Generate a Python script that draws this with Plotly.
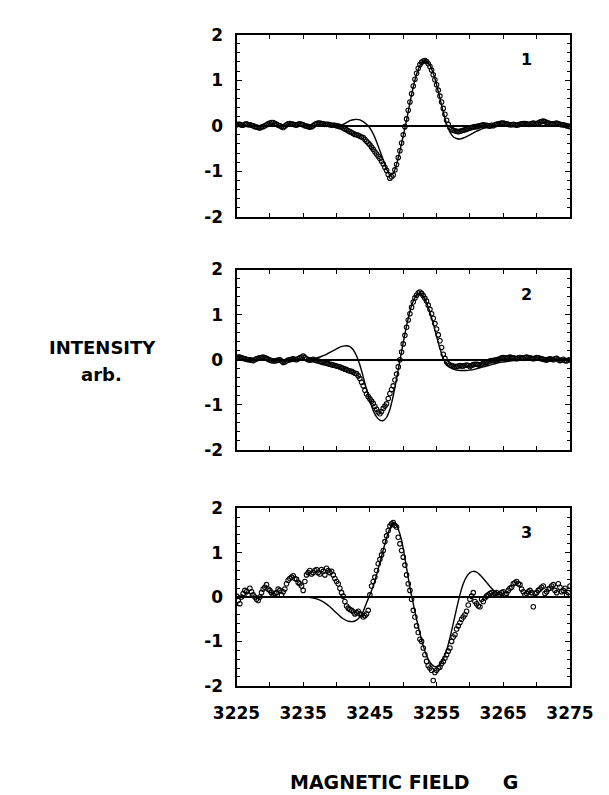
import plotly.graph_objects as go

# ---------------- data ----------------
FIELD_G = [
    3225.0, 3225.5, 3226.0, 3226.5, 3227.0, 3227.5, 3228.0, 3228.5, 3229.0, 3229.5,
    3230.0, 3230.5, 3231.0, 3231.5, 3232.0, 3232.5, 3233.0, 3233.5, 3234.0, 3234.5,
    3235.0, 3235.5, 3236.0, 3236.5, 3237.0, 3237.5, 3238.0, 3238.5, 3239.0, 3239.5,
    3240.0, 3240.5, 3241.0, 3241.5, 3242.0, 3242.5, 3243.0, 3243.5, 3244.0, 3244.5,
    3245.0, 3245.5, 3246.0, 3246.5, 3247.0, 3247.5, 3248.0, 3248.5, 3249.0, 3249.5,
    3250.0, 3250.5, 3251.0, 3251.5, 3252.0, 3252.5, 3253.0, 3253.5, 3254.0, 3254.5,
    3255.0, 3255.5, 3256.0, 3256.5, 3257.0, 3257.5, 3258.0, 3258.5, 3259.0, 3259.5,
    3260.0, 3260.5, 3261.0, 3261.5, 3262.0, 3262.5, 3263.0, 3263.5, 3264.0, 3264.5,
    3265.0, 3265.5, 3266.0, 3266.5, 3267.0, 3267.5, 3268.0, 3268.5, 3269.0, 3269.5,
    3270.0, 3270.5, 3271.0, 3271.5, 3272.0, 3272.5, 3273.0, 3273.5, 3274.0, 3274.5,
    3275.0,
]
FIELD_G_MID = [
    3225.25, 3225.75, 3226.25, 3226.75, 3227.25, 3227.75, 3228.25, 3228.75, 3229.25, 3229.75,
    3230.25, 3230.75, 3231.25, 3231.75, 3232.25, 3232.75, 3233.25, 3233.75, 3234.25, 3234.75,
    3235.25, 3235.75, 3236.25, 3236.75, 3237.25, 3237.75, 3238.25, 3238.75, 3239.25, 3239.75,
    3240.25, 3240.75, 3241.25, 3241.75, 3242.25, 3242.75, 3243.25, 3243.75, 3244.25, 3244.75,
    3245.25, 3245.75, 3246.25, 3246.75, 3247.25, 3247.75, 3248.25, 3248.75, 3249.25, 3249.75,
    3250.25, 3250.75, 3251.25, 3251.75, 3252.25, 3252.75, 3253.25, 3253.75, 3254.25, 3254.75,
    3255.25, 3255.75, 3256.25, 3256.75, 3257.25, 3257.75, 3258.25, 3258.75, 3259.25, 3259.75,
    3260.25, 3260.75, 3261.25, 3261.75, 3262.25, 3262.75, 3263.25, 3263.75, 3264.25, 3264.75,
    3265.25, 3265.75, 3266.25, 3266.75, 3267.25, 3267.75, 3268.25, 3268.75, 3269.25, 3269.75,
    3270.25, 3270.75, 3271.25, 3271.75, 3272.25, 3272.75, 3273.25, 3273.75, 3274.25, 3274.75,
]

# panel 1 ------------------------------------------------------------
P1_DATA = [
    0.02, 0.03, 0.01, 0.04, 0.02, 0.00, -0.03, -0.05, -0.02, 0.02,
    0.06, 0.07, 0.03, 0.00, -0.04, 0.02, 0.05, 0.03, 0.01, 0.04,
    0.02, -0.01, -0.03, 0.00, 0.05, 0.06, 0.04, 0.03, 0.02, 0.01,
    0.00, -0.02, -0.05, -0.09, -0.13, -0.17, -0.20, -0.23, -0.26, -0.34,
    -0.42, -0.52, -0.62, -0.72, -0.84, -0.98, -1.15, -1.08, -0.85, -0.55,
    -0.20, 0.15, 0.52, 0.87, 1.15, 1.34, 1.42, 1.41, 1.30, 1.12,
    0.90, 0.65, 0.38, 0.12, -0.04, -0.10, -0.12, -0.12, -0.10, -0.08,
    -0.05, -0.03, -0.02, 0.00, 0.02, 0.01, -0.01, 0.00, 0.03, 0.05,
    0.06, 0.04, 0.02, 0.03, 0.01, 0.03, 0.05, 0.04, 0.03, 0.06,
    0.05, 0.08, 0.10, 0.07, 0.05, 0.04, 0.06, 0.03, 0.02, 0.00,
    -0.02,
]
P1_DATA_MID = [
    0.03, 0.01, 0.03, 0.02, 0.01, -0.02, -0.04, -0.03, 0.00, 0.04,
    0.07, 0.05, 0.01, -0.02, -0.01, 0.04, 0.04, 0.02, 0.03, 0.03,
    0.00, -0.02, -0.02, 0.03, 0.06, 0.05, 0.03, 0.03, 0.01, 0.01,
    -0.01, -0.03, -0.07, -0.11, -0.15, -0.19, -0.21, -0.25, -0.30, -0.38,
    -0.47, -0.57, -0.67, -0.78, -0.91, -1.07, -1.12, -0.97, -0.70, -0.38,
    -0.02, 0.34, 0.70, 1.02, 1.26, 1.39, 1.43, 1.36, 1.22, 1.01,
    0.78, 0.52, 0.25, 0.03, -0.08, -0.11, -0.13, -0.11, -0.09, -0.06,
    -0.04, -0.02, -0.01, 0.01, 0.01, 0.00, 0.01, 0.02, 0.04, 0.06,
    0.05, 0.03, 0.02, 0.02, 0.02, 0.04, 0.05, 0.03, 0.05, 0.05,
    0.06, 0.09, 0.09, 0.06, 0.04, 0.05, 0.04, 0.02, 0.01, -0.01,
]
P1_FIT = [
    0.00, 0.00, 0.00, 0.00, 0.00, 0.00, 0.00, 0.00, 0.00, 0.00,
    0.00, 0.00, 0.00, 0.00, 0.00, 0.00, 0.00, 0.00, 0.00, 0.00,
    0.00, 0.00, 0.00, 0.00, 0.00, 0.00, 0.00, 0.00, 0.00, 0.00,
    0.00, 0.01, 0.03, 0.07, 0.11, 0.13, 0.14, 0.13, 0.09, 0.03,
    -0.05, -0.18, -0.35, -0.55, -0.75, -0.95, -1.08, -1.05, -0.85, -0.55,
    -0.22, 0.12, 0.50, 0.85, 1.13, 1.32, 1.42, 1.42, 1.33, 1.15,
    0.90, 0.60, 0.30, 0.04, -0.14, -0.24, -0.28, -0.29, -0.27, -0.24,
    -0.20, -0.16, -0.12, -0.09, -0.06, -0.04, -0.03, -0.02, -0.01, 0.00,
    0.00, 0.00, 0.00, 0.00, 0.00, 0.00, 0.00, 0.00, 0.00, 0.00,
    0.00, 0.00, 0.00, 0.00, 0.00, 0.00, 0.00, 0.00, 0.00, 0.00,
    0.00,
]

# panel 2 ------------------------------------------------------------
P2_DATA = [
    0.05, 0.06, 0.03, 0.01, 0.00, -0.02, 0.02, 0.04, 0.06, 0.03,
    -0.01, -0.03, -0.02, 0.00, -0.06, -0.03, 0.00, 0.02, 0.00, 0.04,
    0.08, 0.02, -0.01, 0.01, -0.02, -0.04, -0.06, -0.08, -0.10, -0.12,
    -0.14, -0.16, -0.19, -0.22, -0.25, -0.28, -0.31, -0.42, -0.58, -0.76,
    -0.87, -0.97, -1.10, -1.20, -1.08, -0.98, -0.75, -0.58, -0.32, 0.00,
    0.35, 0.72, 1.02, 1.28, 1.43, 1.50, 1.42, 1.30, 1.12, 0.92,
    0.68, 0.42, 0.12, -0.05, -0.12, -0.14, -0.15, -0.13, -0.14, -0.12,
    -0.15, -0.11, -0.10, -0.12, -0.08, -0.06, -0.03, -0.02, 0.00, 0.02,
    0.05, 0.03, 0.06, 0.04, 0.02, 0.05, 0.03, 0.06, 0.04, 0.02,
    0.05, 0.03, 0.01, -0.01, 0.02, 0.00, 0.03, -0.02, 0.01, -0.03,
    0.00,
]
P2_DATA_MID = [
    0.06, 0.04, 0.02, 0.00, -0.01, 0.00, 0.03, 0.05, 0.04, 0.01,
    -0.02, -0.03, -0.01, -0.03, -0.05, -0.01, 0.01, 0.01, 0.02, 0.06,
    0.05, 0.00, 0.00, -0.01, -0.03, -0.05, -0.07, -0.09, -0.11, -0.13,
    -0.15, -0.18, -0.21, -0.24, -0.26, -0.30, -0.36, -0.50, -0.68, -0.82,
    -0.92, -1.04, -1.16, -1.15, -1.03, -0.86, -0.66, -0.45, -0.16, 0.17,
    0.54, 0.88, 1.16, 1.37, 1.48, 1.47, 1.36, 1.21, 1.02, 0.80,
    0.55, 0.27, 0.03, -0.09, -0.13, -0.15, -0.14, -0.14, -0.13, -0.13,
    -0.13, -0.10, -0.11, -0.10, -0.07, -0.04, -0.02, -0.01, 0.01, 0.04,
    0.04, 0.05, 0.05, 0.03, 0.04, 0.04, 0.05, 0.05, 0.03, 0.03,
    0.04, 0.02, 0.00, 0.01, 0.01, 0.02, 0.00, -0.01, -0.02, -0.01,
]
P2_FIT = [
    0.00, 0.00, 0.00, 0.00, 0.00, 0.00, 0.00, 0.00, 0.00, 0.00,
    0.00, 0.00, 0.00, 0.00, 0.00, 0.00, 0.00, 0.00, 0.00, 0.00,
    0.00, 0.00, 0.01, 0.02, 0.04, 0.06, 0.09, 0.12, 0.16, 0.20,
    0.24, 0.28, 0.30, 0.31, 0.29, 0.22, 0.08, -0.12, -0.38, -0.66,
    -0.92, -1.13, -1.27, -1.34, -1.35, -1.28, -1.10, -0.80, -0.42, -0.02,
    0.38, 0.75, 1.07, 1.30, 1.43, 1.46, 1.40, 1.26, 1.05, 0.80,
    0.52, 0.25, 0.03, -0.10, -0.17, -0.21, -0.23, -0.24, -0.24, -0.24,
    -0.23, -0.22, -0.20, -0.18, -0.16, -0.14, -0.12, -0.10, -0.08, -0.06,
    -0.05, -0.04, -0.03, -0.02, -0.01, -0.01, 0.00, 0.00, 0.00, 0.00,
    0.00, 0.00, 0.00, 0.00, 0.00, 0.00, 0.00, 0.00, 0.00, 0.00,
    0.00,
]

# panel 3 ------------------------------------------------------------
P3_DATA = [
    0.02, -0.15, 0.08, 0.12, 0.20, 0.05, -0.05, 0.00, 0.18, 0.28,
    0.15, 0.05, 0.10, 0.15, 0.12, 0.30, 0.42, 0.48, 0.40, 0.30,
    0.15, 0.50, 0.60, 0.55, 0.62, 0.52, 0.58, 0.65, 0.55, 0.50,
    0.35, 0.20, 0.02, -0.20, -0.28, -0.33, -0.35, -0.38, -0.45, -0.38,
    0.05, 0.35, 0.60, 0.85, 1.05, 1.38, 1.60, 1.68, 1.58, 1.20,
    0.90, 0.50, 0.15, -0.30, -0.65, -0.95, -1.15, -1.45, -1.60, -1.88,
    -1.65, -1.58, -1.45, -1.30, -1.15, -0.90, -0.72, -0.58, -0.45, -0.32,
    -0.05, 0.10, -0.15, -0.22, -0.10, 0.02, 0.08, 0.05, 0.10, 0.06,
    0.12, 0.08, 0.20, 0.30, 0.35, 0.28, 0.12, 0.08, 0.15, -0.22,
    0.10, 0.18, 0.25, 0.12, 0.20, 0.28, 0.10, 0.22, 0.15, 0.05,
    0.25,
]
P3_DATA_MID = [
    -0.08, 0.00, 0.15, 0.05, 0.12, 0.00, -0.08, 0.10, 0.22, 0.18,
    0.10, 0.08, 0.18, 0.05, 0.18, 0.38, 0.45, 0.42, 0.33, 0.25,
    0.35, 0.55, 0.52, 0.60, 0.55, 0.62, 0.50, 0.60, 0.58, 0.42,
    0.30, 0.10, -0.10, -0.25, -0.30, -0.38, -0.32, -0.40, -0.42, -0.30,
    0.25, 0.45, 0.75, 0.95, 1.25, 1.50, 1.65, 1.62, 1.35, 1.05,
    0.72, 0.30, -0.05, -0.45, -0.80, -1.00, -1.30, -1.55, -1.65, -1.70,
    -1.60, -1.50, -1.38, -1.22, -1.00, -0.85, -0.65, -0.50, -0.40, -0.18,
    0.02, -0.10, -0.20, -0.05, -0.02, 0.05, 0.10, 0.08, 0.04, 0.10,
    0.06, 0.15, 0.22, 0.32, 0.30, 0.18, 0.05, 0.12, 0.10, 0.08,
    0.15, 0.22, 0.08, 0.18, 0.25, 0.15, 0.30, 0.12, 0.20, 0.10,
]
P3_FIT = [
    0.00, 0.00, 0.00, 0.00, 0.00, 0.00, 0.00, 0.00, 0.00, 0.00,
    0.00, 0.00, 0.00, 0.00, 0.00, 0.00, 0.00, 0.00, 0.00, 0.00,
    0.00, 0.00, -0.01, -0.02, -0.04, -0.07, -0.11, -0.16, -0.22, -0.29,
    -0.36, -0.43, -0.49, -0.53, -0.55, -0.55, -0.52, -0.45, -0.32, -0.13,
    0.05, 0.25, 0.50, 0.78, 1.06, 1.33, 1.55, 1.68, 1.62, 1.42,
    1.10, 0.65, 0.22, -0.15, -0.50, -0.82, -1.10, -1.32, -1.47, -1.55,
    -1.57, -1.52, -1.40, -1.20, -0.92, -0.60, -0.26, 0.05, 0.30, 0.46,
    0.55, 0.58, 0.56, 0.50, 0.42, 0.33, 0.24, 0.16, 0.10, 0.05,
    0.02, 0.01, 0.00, 0.00, 0.00, 0.00, 0.00, 0.00, 0.00, 0.00,
    0.00, 0.00, 0.00, 0.00, 0.00, 0.00, 0.00, 0.00, 0.00, 0.00,
    0.00,
]

PANEL_LABELS = ["1", "2", "3"]
X_TICK_VALUES = [3225, 3235, 3245, 3255, 3265, 3275]
X_TICK_LABELS = ["3225", "3235", "3245", "3255", "3265", "3275"]
Y_TICK_VALUES = [-2, -1, 0, 1, 2]
Y_TICK_LABELS = ["-2", "-1", "0", "1", "2"]
Y_LABEL_LINES = ["INTENSITY", "arb."]
X_LABEL = "MAGNETIC\u00a0FIELD\u00a0\u00a0\u00a0\u00a0\u00a0G"

# ---------------- layout geometry ----------------
W, H = 609, 795
X_DOMAIN = [222 / W, 584 / W]
Y_DOMAINS = [
    [1 - 204 / H, 1 - 17 / H],
    [1 - 443 / H, 1 - 258 / H],
    [1 - 685 / H, 1 - 503 / H],
]
FONT = "DejaVu Sans"

panels = [
    (P1_DATA, P1_DATA_MID, P1_FIT),
    (P2_DATA, P2_DATA_MID, P2_FIT),
    (P3_DATA, P3_DATA_MID, P3_FIT),
]

fig = go.Figure()
layout = dict(
    width=W, height=H,
    margin=dict(l=0, r=0, t=0, b=0),
    paper_bgcolor="white", plot_bgcolor="white",
    showlegend=False,
    annotations=[],
)

for i, (data, data_mid, fit) in enumerate(panels):
    n = "" if i == 0 else str(i + 1)
    xa, ya = "x" + n, "y" + n
    fig.add_trace(go.Scatter(
        x=FIELD_G + FIELD_G_MID, y=data + data_mid, xaxis=xa, yaxis=ya,
        mode="markers",
        marker=dict(symbol="circle-open", size=4.5, color="black",
                    line=dict(width=1.1, color="black")),
        hoverinfo="skip",
    ))
    fig.add_trace(go.Scatter(
        x=FIELD_G, y=fit, xaxis=xa, yaxis=ya, mode="lines",
        line=dict(color="black", width=1.4, shape="spline", smoothing=0.6),
        hoverinfo="skip",
    ))
    layout["xaxis" + n] = dict(
        domain=X_DOMAIN, range=[3225, 3275], anchor=ya,
        showline=True, linecolor="black", linewidth=2, mirror="ticks",
        ticks="inside", ticklen=4, tickwidth=1.2, tickcolor="black",
        tickmode="array", tickvals=X_TICK_VALUES, ticktext=X_TICK_LABELS,
        showticklabels=(i == 2),
        tickfont=dict(family=FONT, size=17, color="black", weight="bold"),
        ticklabelstandoff=11,
        minor=dict(tickmode="linear", tick0=3225, dtick=5, ticks="inside",
                   ticklen=4, tickwidth=1.2, tickcolor="black", showgrid=False),
        showgrid=False, zeroline=False, fixedrange=True,
    )
    layout["yaxis" + n] = dict(
        domain=Y_DOMAINS[i], range=[-2, 2], anchor=xa,
        showline=True, linecolor="black", linewidth=2, mirror="ticks",
        ticks="inside", ticklen=5, tickwidth=1.2, tickcolor="black",
        tickmode="array", tickvals=Y_TICK_VALUES, ticktext=Y_TICK_LABELS,
        tickfont=dict(family=FONT, size=17, color="black", weight="bold"),
        ticklabelstandoff=8,
        minor=dict(tickmode="linear", tick0=-2, dtick=0.2, ticks="inside",
                   ticklen=3, tickwidth=1, tickcolor="black", showgrid=False),
        showgrid=False, zeroline=True, zerolinecolor="black", zerolinewidth=1.5,
        fixedrange=True,
    )
    layout["annotations"].append(dict(
        x=3268.5, y=1.45, xref=xa, yref=ya, text=PANEL_LABELS[i],
        showarrow=False, xanchor="center", yanchor="middle",
        font=dict(family=FONT, size=16, color="black", weight="bold"),
    ))

layout["annotations"].append(dict(
    x=77 / W, y=1 - 338 / H, xref="paper", yref="paper", text=Y_LABEL_LINES[0],
    showarrow=False, xanchor="center", yanchor="middle",
    font=dict(family=FONT, size=18, color="black", weight="bold"),
))
layout["annotations"].append(dict(
    x=75 / W, y=1 - 366 / H, xref="paper", yref="paper", text=Y_LABEL_LINES[1],
    showarrow=False, xanchor="center", yanchor="middle",
    font=dict(family=FONT, size=18, color="black", weight="bold"),
))
layout["annotations"].append(dict(
    x=278 / W, y=1 - 784 / H, xref="paper", yref="paper", text=X_LABEL,
    showarrow=False, xanchor="left", yanchor="middle",
    font=dict(family=FONT, size=19, color="black", weight="bold"),
))

fig.update_layout(**layout)
fig.write_html("out.html", config=dict(displayModeBar=False))
